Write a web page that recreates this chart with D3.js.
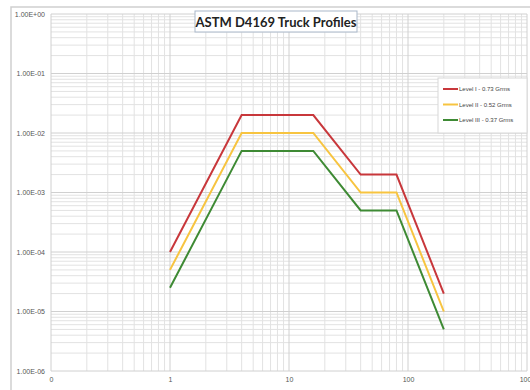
<!DOCTYPE html>
<html>
<head>
<meta charset="utf-8">
<script src="https://cdn.jsdelivr.net/npm/d3@7"></script>
<style>
  body { margin: 0; background: #fff; }
  svg { display: block; }
</style>
</head>
<body>
<div id="chart"></div>
<script>
// frequency (Hz) and PSD (g^2/Hz) for each level
const freqs = [1, 4, 16, 40, 80, 200];
const level1 = [1e-4, 2e-2, 2e-2, 2e-3, 2e-3, 2e-5];
const level2 = [5e-5, 1e-2, 1e-2, 1e-3, 1e-3, 1e-5];
const level3 = [2.5e-5, 5e-3, 5e-3, 5e-4, 5e-4, 5e-6];

const seriesNames = ["Level I - 0.73 Grms", "Level II - 0.52 Grms", "Level III - 0.37 Grms"];
const seriesColors = ["#c8373b", "#f7c440", "#3e8a34"];

const xTicks = [0.1, 1, 10, 100, 1000];
const xTickLabels = ["0", "1", "10", "100", "1000"];
const yTicks = [1, 1e-1, 1e-2, 1e-3, 1e-4, 1e-5, 1e-6];
const yTickLabels = ["1.00E+00", "1.00E-01", "1.00E-02", "1.00E-03", "1.00E-04", "1.00E-05", "1.00E-06"];

function drawChart() {
  const width = 530, height = 390;
  const margin = { top: 14, right: 3, bottom: 19, left: 51 };
  const innerW = width - margin.left - margin.right;
  const innerH = height - margin.top - margin.bottom;

  const svg = d3.select("#chart").append("svg")
    .attr("width", width)
    .attr("height", height);

  // outer chart frame
  svg.append("path")
    .attr("d", `M11,${height} V7 H${width}`)
    .attr("fill", "none")
    .attr("stroke", "#cfcfcf")
    .attr("stroke-width", 1.5);

  const g = svg.append("g")
    .attr("transform", `translate(${margin.left},${margin.top})`);

  const x = d3.scaleLog().domain([0.1, 1000]).range([0, innerW]);
  const y = d3.scaleLog().domain([1e-6, 1]).range([innerH, 0]);

  // minor + major gridlines
  const minorX = [];
  for (let d = 0.1; d < 1000; d *= 10)
    for (let k = 2; k <= 9; k++) minorX.push(d * k);
  const minorY = [];
  for (let d = 1e-6; d < 1; d *= 10)
    for (let k = 2; k <= 9; k++) minorY.push(d * k);

  g.selectAll(".minor-x").data(minorX).join("line")
    .attr("x1", d => x(d)).attr("x2", d => x(d))
    .attr("y1", 0).attr("y2", innerH)
    .attr("stroke", "#e2e2e2").attr("stroke-width", 1);
  g.selectAll(".minor-y").data(minorY).join("line")
    .attr("x1", 0).attr("x2", innerW)
    .attr("y1", d => y(d)).attr("y2", d => y(d))
    .attr("stroke", "#e2e2e2").attr("stroke-width", 1);
  g.selectAll(".major-x").data(xTicks).join("line")
    .attr("x1", d => x(d)).attr("x2", d => x(d))
    .attr("y1", 0).attr("y2", innerH)
    .attr("stroke", "#d0d0d0").attr("stroke-width", 1);
  g.selectAll(".major-y").data(yTicks).join("line")
    .attr("x1", 0).attr("x2", innerW)
    .attr("y1", d => y(d)).attr("y2", d => y(d))
    .attr("stroke", "#d0d0d0").attr("stroke-width", 1);

  // axes labels
  const yAxis = d3.axisLeft(y).tickValues(yTicks)
    .tickFormat((d, i) => yTickLabels[i]).tickSize(0).tickPadding(6);
  g.append("g").call(yAxis)
    .call(a => a.select(".domain").remove())
    .selectAll("text")
    .attr("font-family", "Liberation Sans, Arial, sans-serif")
    .attr("font-size", 7)
    .attr("fill", "#555");

  const xAxis = d3.axisBottom(x).tickValues(xTicks)
    .tickFormat((d, i) => xTickLabels[i]).tickSize(0).tickPadding(6);
  g.append("g").attr("transform", `translate(0,${innerH})`).call(xAxis)
    .call(a => a.select(".domain").remove())
    .selectAll("text")
    .attr("font-family", "Liberation Sans, Arial, sans-serif")
    .attr("font-size", 7)
    .attr("fill", "#555");

  // series lines
  const allLevels = [level1, level2, level3];
  const line = d3.line()
    .x(d => x(d[0]))
    .y(d => y(d[1]));

  allLevels.forEach((vals, i) => {
    g.append("path")
      .datum(freqs.map((f, j) => [f, vals[j]]))
      .attr("fill", "none")
      .attr("stroke", seriesColors[i])
      .attr("stroke-width", 2)
      .attr("stroke-linejoin", "miter")
      .attr("d", line);
  });

  // title box
  const title = svg.append("g").attr("transform", "translate(276,22)");
  title.append("rect")
    .attr("x", -81).attr("y", -11)
    .attr("width", 162).attr("height", 21)
    .attr("fill", "#fff")
    .attr("stroke", "#a9b7c9");
  title.append("text")
    .attr("text-anchor", "middle")
    .attr("dy", "0.35em")
    .attr("font-family", "Lato, Open Sans, sans-serif")
    .attr("font-weight", "bold")
    .attr("font-size", 13)
    .attr("fill", "#222")
    .text("ASTM D4169 Truck Profiles");

  // legend
  const legend = svg.append("g").attr("transform", "translate(438,78)");
  legend.append("rect")
    .attr("width", 89).attr("height", 55)
    .attr("fill", "#fff")
    .attr("stroke", "#d8d8d8");
  seriesNames.forEach((name, i) => {
    const row = legend.append("g").attr("transform", `translate(0,${11 + i * 15.5})`);
    row.append("line")
      .attr("x1", 5).attr("x2", 20)
      .attr("stroke", seriesColors[i]).attr("stroke-width", 2);
    row.append("text")
      .attr("x", 21).attr("dy", "0.35em")
      .attr("font-family", "Liberation Sans, Arial, sans-serif")
      .attr("font-size", 6)
      .attr("fill", "#444")
      .text(name);
  });
}

drawChart();
</script>
</body>
</html>
